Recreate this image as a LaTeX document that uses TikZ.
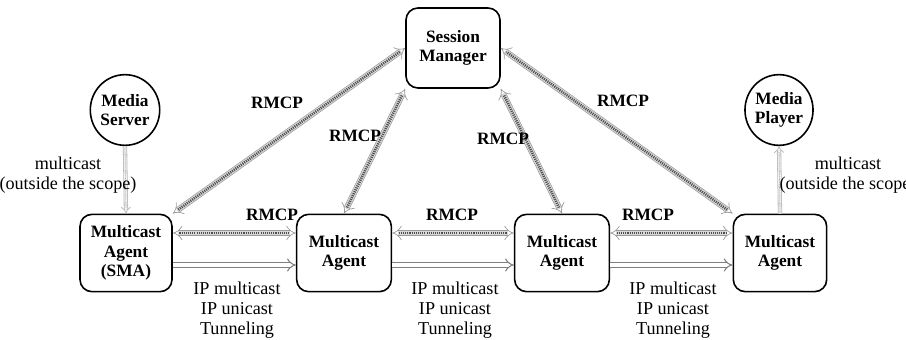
\documentclass[tikz,border=0pt]{standalone}
\usepackage{fontspec}
\setmainfont{Liberation Serif}
\usetikzlibrary{arrows.meta,shapes.geometric}

\tikzset{
  box/.style={draw, line width=1.2pt, rounded corners=9pt, align=center,
    font=\fontsize{13}{14.5}\selectfont\bfseries, inner sep=0pt},
  oval/.style={draw, ellipse, line width=1.2pt, align=center,
    font=\fontsize{13}{14.5}\selectfont\bfseries, inner sep=0pt},
  lbl/.style={font=\fontsize{13}{14.5}\selectfont\bfseries, inner sep=0pt},
  txt/.style={font=\fontsize{13.6}{15}\selectfont, align=center, inner sep=0pt},
  rmcp/.style={draw=gray!80, line width=0.5pt, double=gray!30, double distance=3.4pt,
    {Implies}-{Implies},
    postaction={draw=black!70, line width=2pt, dash pattern=on 0.8pt off 0.8pt,
      shorten <=5pt, shorten >=5pt, -}},
  flow/.style={draw=black!50, line width=0.8pt, double=white, double distance=2.6pt,
    -{Implies}},
  ext/.style={draw=gray!55, line width=0.6pt, double=gray!10, double distance=2pt,
    -{Implies},
    postaction={draw=gray!65, line width=0.6pt, dash pattern=on 0.6pt off 0.6pt,
      shorten >=4pt, -}}
}

\begin{document}
\begin{tikzpicture}[x=0.75pt, y=-0.75pt]
  \useasboundingbox (0,0) rectangle (906,339);

  % entities
  \node[box, minimum width=70.5pt, minimum height=60pt] (sm) at (453,48) {Session\\Manager};
  \node[oval, minimum width=47pt, minimum height=53pt] (ms) at (125,110) {Media\\Server};
  \node[oval, minimum width=51pt, minimum height=53pt] (mp) at (779,110) {Media\\Player};
  \node[box, minimum width=69pt, minimum height=58pt] (a1) at (126,253) {Multicast\\Agent\\(SMA)};
  \node[box, minimum width=71pt, minimum height=58pt] (a2) at (344,253) {Multicast\\Agent};
  \node[box, minimum width=71pt, minimum height=58pt] (a3) at (562,253) {Multicast\\Agent};
  \node[box, minimum width=70pt, minimum height=58pt] (a4) at (780,253) {Multicast\\Agent};

  % control links to the session manager
  \draw[rmcp] (a1.north east) -- (sm.west);
  \draw[rmcp] (a2.north) -- (sm.south west);
  \draw[rmcp] (a3.north) -- (sm.south east);
  \draw[rmcp] (a4.north west) -- (sm.east);

  % control links between agents
  \draw[rmcp] ([yshift=15pt]a1.east) -- ([yshift=15pt]a2.west);
  \draw[rmcp] ([yshift=15pt]a2.east) -- ([yshift=15pt]a3.west);
  \draw[rmcp] ([yshift=15pt]a3.east) -- ([yshift=15pt]a4.west);

  % data paths
  \draw[flow] ([yshift=-9pt]a1.east) -- ([yshift=-9pt]a2.west);
  \draw[flow] ([yshift=-9pt]a2.east) -- ([yshift=-9pt]a3.west);
  \draw[flow] ([yshift=-9pt]a3.east) -- ([yshift=-9pt]a4.west);

  % external multicast
  \draw[ext] (ms.south) -- (a1.north);
  \draw[ext] (a4.north) -- (mp.south);

  % labels
  \node[lbl] (l1) at (277,103) {RMCP};
  \node[lbl] (l2) at (355,136) {RMCP};
  \node[lbl] (l3) at (503,139) {RMCP};
  \node[lbl] (l4) at (623,101) {RMCP};
  \node[lbl] (l5) at (272,215) {RMCP};
  \node[lbl] (l6) at (452,215) {RMCP};
  \node[lbl] (l7) at (648,215) {RMCP};

  \node[txt] (t1) at (237,310) {IP multicast\\IP unicast\\Tunneling};
  \node[txt] (t2) at (455,310) {IP multicast\\IP unicast\\Tunneling};
  \node[txt] (t3) at (673,310) {IP multicast\\IP unicast\\Tunneling};

  \node[txt] (e1) at (68,175) {multicast\\(outside the scope)};
  \node[txt] (e2) at (848,175) {multicast\\(outside the scope)};
\end{tikzpicture}
\end{document}
